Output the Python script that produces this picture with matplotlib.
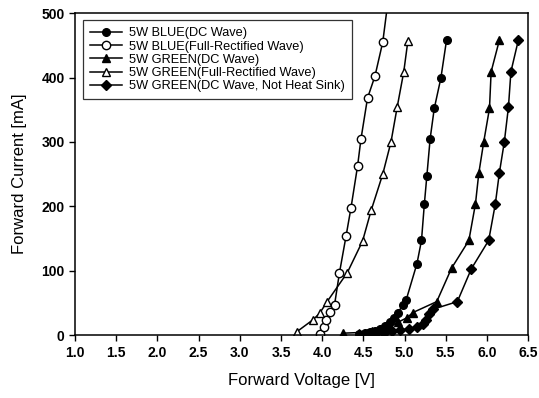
import matplotlib
matplotlib.use("Agg")
import matplotlib.pyplot as plt

plt.rcParams['font.family'] = ['Liberation Sans', 'DejaVu Sans']

# 5W BLUE, DC wave
blue_dc_v = [4.45, 4.52, 4.58, 4.64, 4.70, 4.76, 4.82, 4.87, 4.92, 4.98, 5.02, 5.15, 5.205, 5.24, 5.27, 5.31, 5.36, 5.44, 5.51]
blue_dc_i = [2, 3, 5, 7, 10, 14, 20, 27, 35, 47, 55, 111, 147, 204, 247, 305, 352, 399, 459]

# 5W BLUE, full-rectified wave
blue_fr_v = [3.97, 4.02, 4.05, 4.09, 4.15, 4.21, 4.29, 4.35, 4.43, 4.47, 4.55, 4.64, 4.735, 4.86]
blue_fr_i = [2, 13, 23, 36, 47, 97, 154, 198, 263, 304, 368, 402, 455, 580]

# 5W GREEN, DC wave
green_dc_v = [4.25, 4.45, 4.60, 4.72, 4.82, 4.92, 5.03, 5.10, 5.39, 5.57, 5.78, 5.86, 5.90, 5.96, 6.03, 6.05, 6.15]
green_dc_i = [3, 4, 6, 9, 13, 20, 27, 35, 52, 104, 147, 204, 251, 300, 352, 409, 458]

# 5W GREEN, full-rectified wave
green_fr_v = [3.69, 3.89, 3.97, 4.06, 4.305, 4.49, 4.595, 4.735, 4.835, 4.91, 4.99, 5.04]
green_fr_i = [5, 24, 34, 52, 97, 146, 194, 250, 300, 354, 409, 457]

# 5W GREEN, DC wave, no heat sink
green_nhs_v = [4.55, 4.65, 4.75, 4.85, 4.95, 5.05, 5.15, 5.22, 5.26, 5.30, 5.34, 5.64, 5.81, 6.02, 6.10, 6.15, 6.21, 6.26, 6.29, 6.38]
green_nhs_i = [2, 3, 4, 6, 8, 10, 13, 18, 23, 33, 40, 52, 103, 147, 203, 252, 300, 354, 409, 458]

labels = ["5W BLUE(DC Wave)", "5W BLUE(Full-Rectified Wave)", "5W GREEN(DC Wave)",
          "5W GREEN(Full-Rectified Wave)", "5W GREEN(DC Wave, Not Heat Sink)"]

fig = plt.figure(figsize=(5.39, 3.98), dpi=100)
ax = fig.add_axes([0.139, 0.158, 0.841, 0.809])

ax.plot(blue_dc_v, blue_dc_i, color="black", lw=1.1, marker="o", ms=5.5, mfc="black", label=labels[0])
ax.plot(blue_fr_v, blue_fr_i, color="black", lw=1.1, marker="o", ms=6, mfc="white", label=labels[1])
ax.plot(green_dc_v, green_dc_i, color="black", lw=1.1, marker="^", ms=5.5, mfc="black", label=labels[2])
ax.plot(green_fr_v, green_fr_i, color="black", lw=1.1, marker="^", ms=6, mfc="white", label=labels[3])
ax.plot(green_nhs_v, green_nhs_i, color="black", lw=1.1, marker="D", ms=5, mfc="black", label=labels[4])

ax.set_xlim(1.0, 6.5)
ax.set_ylim(0, 500)
ax.set_xticks([1.0, 1.5, 2.0, 2.5, 3.0, 3.5, 4.0, 4.5, 5.0, 5.5, 6.0, 6.5])
ax.set_yticks([0, 100, 200, 300, 400, 500])
ax.xaxis.set_major_formatter(matplotlib.ticker.FormatStrFormatter("%.1f"))
ax.tick_params(direction="out", length=4, width=1, labelsize=10, colors="black")
for lab in ax.get_xticklabels() + ax.get_yticklabels():
    lab.set_fontweight("bold")
for s in ax.spines.values():
    s.set_linewidth(1.1)

ax.set_xlabel("Forward Voltage [V]", fontsize=12, labelpad=10)
ax.set_ylabel("Forward Current [mA]", fontsize=12, labelpad=10)

leg = ax.legend(loc="upper left", bbox_to_anchor=(0.0175, 0.978), borderaxespad=0,
                fontsize=9.2, frameon=True, fancybox=False, edgecolor="black",
                handlelength=2.5, labelspacing=0.1, borderpad=0.55, handletextpad=0.6)
leg.get_frame().set_linewidth(0.9)

fig.savefig("out.png", dpi=100)
